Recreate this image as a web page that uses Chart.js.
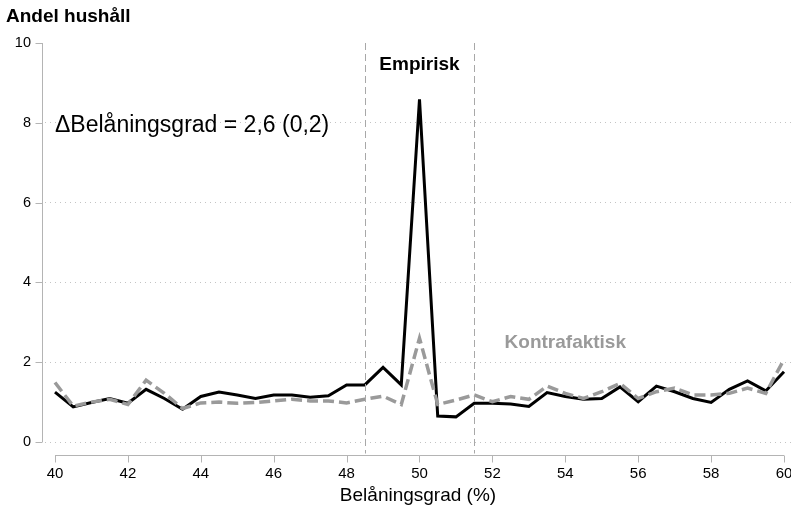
<!DOCTYPE html>
<html>
<head>
<meta charset="utf-8">
<script src="https://cdn.jsdelivr.net/npm/chart.js@4/dist/chart.umd.min.js"></script>
<style>
  html, body { margin: 0; padding: 0; background: #fff; }
  #wrap { width: 791px; height: 512px; }
</style>
</head>
<body>
<div id="wrap"><canvas id="chart" width="791" height="512"></canvas></div>
<script>
// Belåningsgrad (%) in half-percent bins
const bins = [40, 40.5, 41, 41.5, 42, 42.5, 43, 43.5, 44, 44.5, 45, 45.5, 46, 46.5, 47, 47.5,
  48, 48.5, 49, 49.5, 50, 50.5, 51, 51.5, 52, 52.5, 53, 53.5, 54, 54.5, 55, 55.5,
  56, 56.5, 57, 57.5, 58, 58.5, 59, 59.5, 60];

// Andel hushåll per bin
const empirisk = [1.25, 0.88, 0.99, 1.09, 0.97, 1.32, 1.09, 0.82, 1.14, 1.25, 1.18, 1.09,
  1.18, 1.18, 1.12, 1.16, 1.43, 1.43, 1.87, 1.43, 8.59, 0.65, 0.63, 0.97, 0.97, 0.95,
  0.89, 1.24, 1.14, 1.07, 1.09, 1.38, 1.01, 1.40, 1.26, 1.09, 0.99, 1.32, 1.53, 1.28, 1.76];
const kontrafaktisk = [1.49, 0.90, 1.00, 1.07, 0.94, 1.55, 1.22, 0.84, 0.98, 1.00, 0.97, 0.99,
  1.03, 1.07, 1.03, 1.03, 0.98, 1.07, 1.15, 0.94, 2.60, 0.94, 1.05, 1.18, 1.01, 1.14,
  1.07, 1.40, 1.22, 1.09, 1.26, 1.47, 1.09, 1.26, 1.35, 1.18, 1.18, 1.22, 1.35, 1.22, 2.07];

const xTicks = [40, 42, 44, 46, 48, 50, 52, 54, 56, 58, 60];
const yTicks = [0, 2, 4, 6, 8, 10];
const bandEdges = [48.5, 51.5];

const FONT = "'Liberation Sans', Arial, Helvetica, sans-serif";
const AXIS_GREY = "#b4b4b4";
const LINE_GREY = "#9a9a9a";

function pairs(ys) {
  return bins.map((x, i) => ({ x: x, y: ys[i] }));
}

// Axis lines sit a little away from the plot region, so draw them here
const offsetAxes = {
  id: "offsetAxes",
  afterDatasetsDraw(chart) {
    const ctx = chart.ctx;
    const xs = chart.scales.x, ys = chart.scales.y;
    ctx.save();
    ctx.strokeStyle = AXIS_GREY;
    ctx.lineWidth = 1;

    // y axis
    const ax = 42.5;
    ctx.beginPath();
    ctx.moveTo(ax, ys.getPixelForValue(10));
    ctx.lineTo(ax, ys.getPixelForValue(0));
    yTicks.forEach(v => {
      const py = Math.round(ys.getPixelForValue(v)) + 0.5;
      ctx.moveTo(ax - 7, py);
      ctx.lineTo(ax, py);
    });
    ctx.stroke();

    // x axis
    const ay = 455.5;
    ctx.beginPath();
    ctx.moveTo(xs.getPixelForValue(40), ay);
    ctx.lineTo(xs.getPixelForValue(60), ay);
    xTicks.forEach(v => {
      const px = Math.round(xs.getPixelForValue(v)) + 0.5;
      ctx.moveTo(px, ay);
      ctx.lineTo(px, ay + 7);
    });
    ctx.stroke();

    // dashed band edges
    ctx.strokeStyle = "#a8a8a8";
    ctx.setLineDash([7, 4]);
    bandEdges.forEach(v => {
      const px = Math.round(xs.getPixelForValue(v)) + 0.5;
      ctx.beginPath();
      ctx.moveTo(px, ys.getPixelForValue(10));
      ctx.lineTo(px, ay - 2);
      ctx.stroke();
    });
    ctx.setLineDash([]);

    // y axis title and annotations
    ctx.textBaseline = "middle";
    ctx.fillStyle = "#000";
    ctx.font = "bold 19px " + FONT;
    ctx.textAlign = "left";
    ctx.fillText("Andel hushåll", 6, 17);

    ctx.font = "bold 19px " + FONT;
    ctx.textAlign = "center";
    ctx.fillText("Empirisk", xs.getPixelForValue(50), ys.getPixelForValue(9.45));

    ctx.font = "23px " + FONT;
    ctx.textAlign = "left";
    ctx.fillText("\u0394Belåningsgrad = 2,6 (0,2)", xs.getPixelForValue(40), ys.getPixelForValue(7.92));

    ctx.font = "bold 19px " + FONT;
    ctx.fillStyle = LINE_GREY;
    ctx.textAlign = "center";
    ctx.fillText("Kontrafaktisk", xs.getPixelForValue(54), ys.getPixelForValue(2.48));
    ctx.restore();
  }
};

new Chart(document.getElementById("chart"), {
  type: "line",
  data: {
    datasets: [
      {
        label: "Kontrafaktisk",
        data: pairs(kontrafaktisk),
        borderColor: LINE_GREY,
        borderWidth: 3.5,
        borderDash: [11, 5],
        pointRadius: 0,
        tension: 0
      },
      {
        label: "Empirisk",
        data: pairs(empirisk),
        borderColor: "#000",
        borderWidth: 3,
        pointRadius: 0,
        tension: 0
      }
    ]
  },
  options: {
    responsive: false,
    animation: false,
    layout: { padding: { top: 43, left: 0, right: 0, bottom: 0 } },
    plugins: {
      legend: { display: false },
      tooltip: { enabled: false }
    },
    scales: {
      x: {
        type: "linear",
        min: 39.726,
        max: 60.192,
        afterBuildTicks(scale) {
          scale.ticks = xTicks.map(v => ({ value: v }));
        },
        afterFit(scale) {
          scale.height = 70;
          scale.paddingLeft = 0;
          scale.paddingRight = 0;
        },
        grid: { display: false, drawTicks: false },
        border: { display: false },
        ticks: {
          padding: 23,
          maxRotation: 0,
          autoSkip: false,
          color: "#000",
          font: { family: FONT, size: 15 }
        },
        title: {
          display: true,
          text: "Belåningsgrad (%)",
          color: "#000",
          font: { family: FONT, size: 19 },
          padding: { top: 0, bottom: 5 }
        }
      },
      y: {
        min: 0,
        max: 10,
        afterBuildTicks(scale) {
          scale.ticks = yTicks.map(v => ({ value: v }));
        },
        afterFit(scale) {
          scale.width = 45;
          scale.paddingTop = 0;
          scale.paddingBottom = 0;
        },
        grid: {
          drawTicks: false,
          lineWidth: 1,
          color: c => (c.tick && c.tick.value === 10) ? "rgba(0,0,0,0)" : "#c4c4c4"
        },
        border: { display: false, dash: [1, 4] },
        ticks: {
          padding: 14,
          color: "#000",
          font: { family: FONT, size: 14.5 }
        }
      }
    }
  },
  plugins: [offsetAxes]
});
</script>
</body>
</html>
